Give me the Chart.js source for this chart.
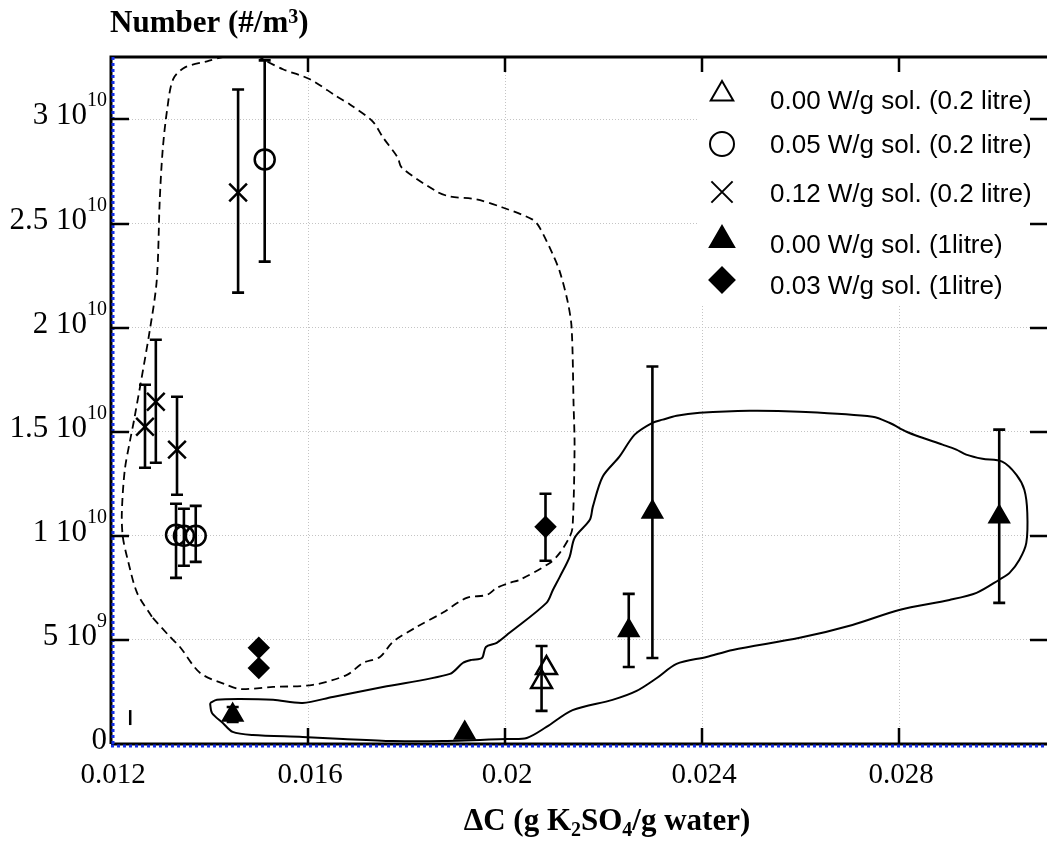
<!DOCTYPE html>
<html>
<head>
<meta charset="utf-8">
<script src="https://cdn.jsdelivr.net/npm/chart.js@4.4.1/dist/chart.umd.min.js"></script>
<style>
  html, body { margin: 0; padding: 0; background: #fff; }
</style>
</head>
<body>
<canvas id="chart" width="1047" height="843"></canvas>
<script>
// Axis ticks
const xTicks = [0.012, 0.016, 0.02, 0.024, 0.028];
const xTickLabels = ['0.012', '0.016', '0.02', '0.024', '0.028'];
const yTicks = [0, 5e9, 1e10, 1.5e10, 2e10, 2.5e10, 3e10];
const yTickMain = ['0', '5 10', '1 10', '1.5 10', '2 10', '2.5 10', '3 10'];
const yTickExp = ['', '9', '10', '10', '10', '10', '10'];

// Series: x = ΔC, y = number per m3, lo/hi = error bar ends
const seriesNames = [
    '0.00 W/g sol. (0.2 litre)',
    '0.05 W/g sol. (0.2 litre)',
    '0.12 W/g sol. (0.2 litre)',
    '0.00 W/g sol. (1litre)',
    '0.03 W/g sol. (1litre)'
];

const s1x = [0.02074, 0.02084];
const s1y = [2.98e9, 3.65e9];
const s1lo = [1.59e9, null];
const s1hi = [4.71e9, null];

const s2x = [0.01512, 0.01332, 0.01348, 0.01372];
const s2y = [2.808e10, 1.005e10, 1.0e10, 1.0e10];
const s2lo = [2.317e10, 7.98e9, 8.56e9, 8.75e9];
const s2hi = [3.284e10, 1.154e10, 1.13e10, 1.144e10];

const s3x = [0.01458, 0.01269, 0.01291, 0.01334];
const s3y = [2.649e10, 1.524e10, 1.644e10, 1.414e10];
const s3lo = [2.168e10, 1.327e10, 1.351e10, 1.197e10];
const s3hi = [3.144e10, 1.726e10, 1.942e10, 1.668e10];

const s4x = [0.01447, 0.01918, 0.02251, 0.02299, 0.03003];
const s4y = [1.39e9, 5.3e8, 5.45e9, 1.115e10, 1.091e10];
const s4lo = [1.06e9, null, 3.70e9, 4.13e9, 6.78e9];
const s4hi = [1.78e9, null, 7.21e9, 1.813e10, 1.51e10];

const s5x = [0.01500, 0.01500, 0.02082];
const s5y = [4.62e9, 3.65e9, 1.043e10];
const s5lo = [null, null, 8.80e9];
const s5hi = [null, null, 1.202e10];

// stray bar near the left axis
const strayX = [0.01239, 0.01239];
const strayY = [0.91e9, 1.63e9];

// dashed envelope (closed)
const dashX = [0.01283, 0.01253, 0.01234, 0.01224, 0.01222, 0.01228, 0.01239, 0.01247, 0.01279, 0.01293,
    0.01299, 0.01305, 0.01314, 0.01326, 0.01350, 0.01395, 0.01435, 0.01496, 0.01516, 0.01549,
    0.01604, 0.01658, 0.01685, 0.01731, 0.01752, 0.01782, 0.01790, 0.01861, 0.01888, 0.01942,
    0.01995, 0.02056, 0.02070, 0.02097, 0.02111, 0.02127, 0.02135, 0.02139, 0.02141, 0.02137,
    0.02131, 0.02111, 0.02091, 0.02030, 0.02009, 0.01983, 0.01963, 0.01922, 0.01873, 0.01821,
    0.01772, 0.01746, 0.01711, 0.01679, 0.01610, 0.01529, 0.01462, 0.01435, 0.01381, 0.01340,
    0.01320, 0.01283];
const dashY = [6.11e9, 7.26e9, 8.85e9, 9.95e9, 1.111e10, 1.317e10, 1.462e10, 1.558e10, 1.991e10, 2.231e10,
    2.616e10, 2.856e10, 3.048e10, 3.193e10, 3.250e10, 3.279e10, 3.303e10, 3.303e10, 3.279e10, 3.241e10,
    3.193e10, 3.111e10, 3.072e10, 2.991e10, 2.914e10, 2.817e10, 2.769e10, 2.654e10, 2.630e10, 2.616e10,
    2.577e10, 2.519e10, 2.481e10, 2.351e10, 2.269e10, 2.125e10, 2.000e10, 1.630e10, 1.428e10, 1.043e10,
    9.95e9, 9.18e9, 8.70e9, 7.89e9, 7.74e9, 7.50e9, 7.16e9, 7.02e9, 6.30e9, 5.63e9,
    4.90e9, 4.18e9, 3.89e9, 3.32e9, 2.84e9, 2.74e9, 2.64e9, 2.84e9, 3.41e9, 4.66e9,
    5.14e9, 6.11e9];

// solid envelope (closed)
const solidX = [0.01401, 0.01415, 0.01462, 0.01529, 0.01589, 0.01650, 0.01752, 0.01888, 0.01914, 0.01932,
    0.01953, 0.01961, 0.01983, 0.02009, 0.02084, 0.02097, 0.02111, 0.02131, 0.02141, 0.02172,
    0.02178, 0.02198, 0.02232, 0.02263, 0.02299, 0.02320, 0.02348, 0.02395, 0.02496, 0.02598,
    0.02746, 0.02780, 0.02815, 0.02841, 0.02888, 0.02916, 0.02936, 0.02969, 0.03009, 0.03038,
    0.03054, 0.03060, 0.03058, 0.03044, 0.03024, 0.03003, 0.02957, 0.02902, 0.02800, 0.02705,
    0.02598, 0.02462, 0.02409, 0.02348, 0.02308, 0.02267, 0.02218, 0.02137, 0.02084, 0.02044,
    0.02003, 0.01873, 0.01772, 0.01671, 0.01589, 0.01488, 0.01447, 0.01427, 0.01405, 0.01401];
const solidY = [1.97e9, 2.12e9, 2.16e9, 2.12e9, 1.97e9, 2.26e9, 2.74e9, 3.37e9, 3.89e9, 4.04e9,
    4.13e9, 4.66e9, 4.86e9, 5.34e9, 6.78e9, 7.40e9, 8.03e9, 8.99e9, 9.90e9, 1.077e10,
    1.139e10, 1.284e10, 1.380e10, 1.486e10, 1.543e10, 1.558e10, 1.577e10, 1.591e10, 1.601e10, 1.596e10,
    1.572e10, 1.543e10, 1.500e10, 1.476e10, 1.438e10, 1.414e10, 1.390e10, 1.370e10, 1.356e10, 1.293e10,
    1.221e10, 1.111e10, 9.66e9, 8.85e9, 8.22e9, 7.89e9, 7.26e9, 6.92e9, 6.44e9, 5.72e9,
    5.10e9, 4.52e9, 4.18e9, 3.85e9, 3.17e9, 2.55e9, 2.12e9, 1.63e9, 8.2e8, 2.9e8,
    2.4e8, 1.4e8, 1.4e8, 2.4e8, 3.4e8, 4.3e8, 5.8e8, 1.01e9, 1.49e9, 1.97e9];

const toPoints = (xs, ys) => xs.map((x, i) => ({ x: x, y: ys[i] }));

const SERIF = '"Liberation Serif", "Times New Roman", serif';
const SANS = '"Liberation Sans", Arial, sans-serif';

function markerSet(name, xs, ys, lo, hi, style, radius, fill) {
    return {
        label: name,
        data: toPoints(xs, ys),
        errLo: lo,
        errHi: hi,
        pointStyle: style,
        pointRadius: radius,
        pointBorderWidth: 2.5,
        pointBorderColor: '#000',
        pointBackgroundColor: fill,
        showLine: false,
        order: 0
    };
}

const markerStyles = [
    { style: 'triangle', radius: 12, fill: 'rgba(0,0,0,0)' },
    { style: 'circle', radius: 10, fill: 'rgba(0,0,0,0)' },
    { style: 'crossRot', radius: 12.5, fill: 'rgba(0,0,0,0)' },
    { style: 'triangle', radius: 11, fill: '#000' },
    { style: 'rectRot', radius: 9.5, fill: '#000' }
];

// Error bars under the markers
const errorBars = {
    id: 'errorBars',
    beforeDatasetsDraw(chart) {
        const ctx = chart.ctx;
        const xs = chart.scales.x, ys = chart.scales.y;
        ctx.save();
        ctx.strokeStyle = '#000';
        ctx.lineWidth = 2.6;
        chart.data.datasets.forEach(ds => {
            if (!ds.errLo) return;
            ds.data.forEach((p, i) => {
                if (ds.errLo[i] == null) return;
                const px = xs.getPixelForValue(p.x);
                const top = ys.getPixelForValue(ds.errHi[i]);
                const bot = ys.getPixelForValue(ds.errLo[i]);
                ctx.beginPath();
                ctx.moveTo(px, top); ctx.lineTo(px, bot);
                ctx.moveTo(px - 6, top); ctx.lineTo(px + 6, top);
                ctx.moveTo(px - 6, bot); ctx.lineTo(px + 6, bot);
                ctx.stroke();
            });
        });
        ctx.restore();
    }
};

function drawMarker(ctx, m, x, y, radius) {
    ctx.save();
    ctx.strokeStyle = '#000';
    ctx.fillStyle = m.fill;
    ctx.lineWidth = 2;
    Chart.helpers.drawPoint(ctx, { pointStyle: m.style, radius: radius, rotation: 0, borderWidth: 2 }, x, y);
    ctx.restore();
}

// Frame, ticks, labels, titles, legend
const decorations = {
    id: 'decorations',
    afterDraw(chart) {
        const ctx = chart.ctx;
        const a = chart.chartArea;
        const xs = chart.scales.x, ys = chart.scales.y;
        ctx.save();

        // legend box
        ctx.fillStyle = '#fff';
        ctx.fillRect(698, 64, 349, 242);
        const legendMarkY = [94, 144, 192, 240, 280];
        const legendTextY = [102, 146, 195, 246, 287];
        const legendRadius = [13, 12, 15, 14, 12.5];
        seriesNames.forEach((name, i) => {
            drawMarker(ctx, markerStyles[i], 722, legendMarkY[i], legendRadius[i]);
            ctx.fillStyle = '#000';
            ctx.font = '26px ' + SANS;
            ctx.textAlign = 'left';
            ctx.textBaseline = 'middle';
            ctx.fillText(name, 770, legendTextY[i]);
        });
        ctx.textBaseline = 'alphabetic';

        // frame
        ctx.strokeStyle = '#000';
        ctx.lineWidth = 3;
        ctx.beginPath();
        ctx.moveTo(a.left, a.bottom); ctx.lineTo(a.left, a.top); ctx.lineTo(a.right, a.top);
        ctx.moveTo(a.left, a.bottom); ctx.lineTo(a.right, a.bottom);
        ctx.stroke();
        ctx.strokeStyle = '#1530e6';
        ctx.setLineDash([3, 3]);
        ctx.beginPath();
        ctx.moveTo(a.left + 2, a.top); ctx.lineTo(a.left + 2, a.bottom + 2);
        ctx.moveTo(a.left, a.bottom + 2); ctx.lineTo(a.right, a.bottom + 2);
        ctx.stroke();
        ctx.setLineDash([]);

        // tick marks (inward, all four sides)
        ctx.strokeStyle = '#000';
        ctx.lineWidth = 2.5;
        ctx.beginPath();
        xTicks.forEach(v => {
            const px = Math.round(xs.getPixelForValue(v));
            if (px <= a.left + 2) return;
            ctx.moveTo(px, a.bottom); ctx.lineTo(px, a.bottom - 16);
            ctx.moveTo(px, a.top); ctx.lineTo(px, a.top + 15);
        });
        yTicks.forEach(v => {
            const py = Math.round(ys.getPixelForValue(v));
            if (py >= a.bottom - 2) return;
            ctx.moveTo(a.left, py); ctx.lineTo(a.left + 18, py);
            ctx.moveTo(a.right, py); ctx.lineTo(a.right - 17, py);
        });
        ctx.stroke();

        // x tick labels
        ctx.fillStyle = '#000';
        ctx.font = '29px ' + SERIF;
        ctx.textAlign = 'center';
        xTicks.forEach((v, i) => {
            ctx.fillText(xTickLabels[i], xs.getPixelForValue(v) + 2, 783);
        });

        // y tick labels with exponents
        ctx.textAlign = 'left';
        yTicks.forEach((v, i) => {
            const py = ys.getPixelForValue(v);
            ctx.font = '31px ' + SERIF;
            const wMain = ctx.measureText(yTickMain[i]).width;
            ctx.font = '20px ' + SERIF;
            const wExp = yTickExp[i] ? ctx.measureText(yTickExp[i]).width : 0;
            const left = 107 - wMain - wExp;
            ctx.font = '31px ' + SERIF;
            ctx.fillText(yTickMain[i], left, py + 5);
            if (yTickExp[i]) {
                ctx.font = '20px ' + SERIF;
                ctx.fillText(yTickExp[i], left + wMain, py - 13);
            }
        });

        // y axis title
        let x = 110;
        ctx.font = 'bold 31px ' + SERIF;
        ctx.fillText('Number (#/m', x, 32);
        x += ctx.measureText('Number (#/m').width;
        ctx.font = 'bold 20px ' + SERIF;
        ctx.fillText('3', x, 23);
        x += ctx.measureText('3').width;
        ctx.font = 'bold 31px ' + SERIF;
        ctx.fillText(')', x, 32);

        // x axis title with subscripts, centred on x = 607
        const parts = [
            ['ΔC (g K', 0], ['2', 1], ['SO', 0], ['4', 1], ['/g water)', 0]
        ];
        const fontFor = sub => (sub ? 'bold 20px ' : 'bold 31px ') + SERIF;
        let total = 0;
        parts.forEach(([t, sub]) => { ctx.font = fontFor(sub); total += ctx.measureText(t).width; });
        x = 607 - total / 2;
        parts.forEach(([t, sub]) => {
            ctx.font = fontFor(sub);
            ctx.fillText(t, x, sub ? 836 : 830);
            x += ctx.measureText(t).width;
        });

        ctx.restore();
    }
};

const datasets = [
    markerSet(seriesNames[0], s1x, s1y, s1lo, s1hi, markerStyles[0].style, markerStyles[0].radius, markerStyles[0].fill),
    markerSet(seriesNames[1], s2x, s2y, s2lo, s2hi, markerStyles[1].style, markerStyles[1].radius, markerStyles[1].fill),
    markerSet(seriesNames[2], s3x, s3y, s3lo, s3hi, markerStyles[2].style, markerStyles[2].radius, markerStyles[2].fill),
    markerSet(seriesNames[3], s4x, s4y, s4lo, s4hi, markerStyles[3].style, markerStyles[3].radius, markerStyles[3].fill),
    markerSet(seriesNames[4], s5x, s5y, s5lo, s5hi, markerStyles[4].style, markerStyles[4].radius, markerStyles[4].fill),
    {
        label: 'stray',
        data: toPoints(strayX, strayY),
        showLine: true,
        borderColor: '#000',
        borderWidth: 2.5,
        pointRadius: 0,
        order: 1
    },
    {
        label: 'dashed envelope',
        data: toPoints(dashX, dashY),
        showLine: true,
        borderColor: '#000',
        borderWidth: 1.8,
        borderDash: [8, 5],
        tension: 0.3,
        pointRadius: 0,
        order: 5
    },
    {
        label: 'solid envelope',
        data: toPoints(solidX, solidY),
        showLine: true,
        borderColor: '#000',
        borderWidth: 2,
        tension: 0.3,
        pointRadius: 0,
        order: 5
    }
];

new Chart(document.getElementById('chart'), {
    type: 'scatter',
    data: { datasets: datasets },
    options: {
        responsive: false,
        animation: false,
        events: [],
        layout: { autoPadding: false, padding: { left: 111, top: 57, right: 0, bottom: 99 } },
        plugins: {
            legend: { display: false },
            tooltip: { enabled: false }
        },
        scales: {
            x: {
                type: 'linear',
                min: 0.012,
                max: 0.031,
                afterBuildTicks: s => { s.ticks = xTicks.map(v => ({ value: v })); },
                afterFit: s => { s.height = 0; },
                ticks: { display: false },
                grid: { color: '#c4c4c4', lineWidth: 1, drawTicks: false },
                border: { display: false, dash: [1, 2] }
            },
            y: {
                type: 'linear',
                min: 0,
                max: 3.3e10,
                afterBuildTicks: s => { s.ticks = yTicks.map(v => ({ value: v })); },
                afterFit: s => { s.width = 0; },
                ticks: { display: false },
                grid: { color: '#c4c4c4', lineWidth: 1, drawTicks: false },
                border: { display: false, dash: [1, 2] }
            }
        }
    },
    plugins: [errorBars, decorations]
});
</script>
</body>
</html>
